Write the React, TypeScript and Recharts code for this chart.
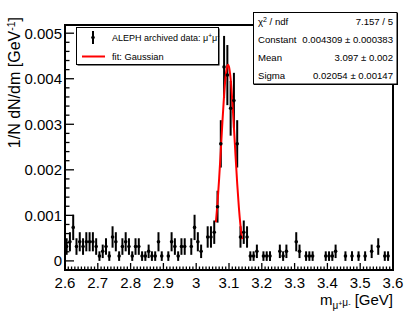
import React from 'react';
import { ComposedChart, Scatter, Line, XAxis, YAxis, ErrorBar } from 'recharts';

// Histogram bin centres (GeV) of the non-empty bins
const massGeV = [
  2.605, 2.615, 2.625, 2.635, 2.645, 2.655, 2.665, 2.675, 2.685, 2.695,
  2.705, 2.715, 2.725, 2.735, 2.745, 2.755, 2.765, 2.775, 2.785, 2.795,
  2.805, 2.815, 2.825, 2.835, 2.845, 2.855, 2.865, 2.875, 2.885, 2.895,
  2.915, 2.925, 2.935, 2.945, 2.955, 2.965, 2.985, 2.995, 3.005, 3.015,
  3.035, 3.045, 3.055, 3.065, 3.075, 3.085, 3.095, 3.105, 3.115, 3.125,
  3.135, 3.145, 3.155, 3.165, 3.175, 3.185, 3.205, 3.215, 3.225, 3.255,
  3.265, 3.275, 3.305, 3.315, 3.335, 3.345, 3.355, 3.395, 3.405, 3.415,
  3.425, 3.455, 3.475, 3.495, 3.515, 3.535, 3.555, 3.575, 3.585,
];

// 1/N dN/dm values [GeV^-1]
const density = [
  0.000315, 0.00042, 0.000735, 0.000315, 0.00042, 0.000315, 0.00042, 0.00042, 0.00042, 0.000315,
  0.000105, 0.00021, 0.000315, 0.000105, 0.000525, 0.00042, 0.000105, 0.000315, 0.00042, 0.000315,
  0.000105, 0.000315, 0.000315, 0.000105, 0.000105, 0.00021, 0.000105, 0.000105, 0.00042, 0.000105,
  0.000105, 0.00042, 0.000315, 0.000105, 0.000315, 0.000315, 0.000315, 0.000735, 0.00042, 0.00021,
  0.000525, 0.000525, 0.00063, 0.00119, 0.00257, 0.00426, 0.00408, 0.00335, 0.00352, 0.00257,
  0.000525, 0.00063, 0.000525, 0.000105, 0.000105, 0.00021, 0.000105, 0.000105, 0.000105, 0.00021,
  0.000105, 0.00021, 0.00042, 0.00021, 0.000105, 0.000105, 0.000105, 0.000105, 0.000105, 0.000105,
  0.00021, 0.000105, 0.000105, 0.000105, 0.000105, 0.00021, 0.000315, 0.000105, 0.000105,
];

// statistical uncertainties
const densityErr = [
  0.000182, 0.00021, 0.000278, 0.000182, 0.00021, 0.000182, 0.00021, 0.00021, 0.00021, 0.000182,
  0.000105, 0.000148, 0.000182, 0.000105, 0.000235, 0.00021, 0.000105, 0.000182, 0.00021, 0.000182,
  0.000105, 0.000182, 0.000182, 0.000105, 0.000105, 0.000148, 0.000105, 0.000105, 0.00021, 0.000105,
  0.000105, 0.00021, 0.000182, 0.000105, 0.000182, 0.000182, 0.000182, 0.000278, 0.00021, 0.000148,
  0.000235, 0.000235, 0.000257, 0.00035, 0.00052, 0.00068, 0.00066, 0.0006, 0.00061, 0.00052,
  0.000235, 0.000257, 0.000235, 0.000105, 0.000105, 0.000148, 0.000105, 0.000105, 0.000105, 0.000148,
  0.000105, 0.000148, 0.00021, 0.000148, 0.000105, 0.000105, 0.000105, 0.000105, 0.000105, 0.000105,
  0.000148, 0.000105, 0.000105, 0.000105, 0.000105, 0.000148, 0.000182, 0.000105, 0.000105,
];

// Gaussian fit curve, sampled
const fitMass = [
  3.06, 3.065, 3.07, 3.075, 3.08, 3.085, 3.09, 3.095, 3.097, 3.1,
  3.105, 3.11, 3.115, 3.12, 3.125, 3.13, 3.135, 3.14,
];
const fitDensity = [
  0.000849, 0.001279, 0.001814, 0.002427, 0.003058, 0.003632, 0.004066, 0.004289, 0.004309, 0.004263,
  0.003994, 0.003527, 0.002934, 0.002301, 0.0017, 0.001184, 0.000777, 0.00048,
];

const xMajorTicks = [2.6, 2.7, 2.8, 2.9, 3.0, 3.1, 3.2, 3.3, 3.4, 3.5, 3.6];
const yMajorTicks = [0, 0.001, 0.002, 0.003, 0.004, 0.005];

const statsLabels = ['Constant', 'Mean', 'Sigma'];
const statsValues = ['0.004309 \u00b1 0.000383', '3.097 \u00b1 0.002', '0.02054 \u00b1 0.00147'];
const chi2Value = '7.157 / 5';

const FONT = '"Liberation Sans", Arial, Helvetica, sans-serif';
const W = 407;
const H = 316;

const histData = massGeV.map((x, i) => ({ x, y: density[i], err: densityErr[i] }));
const fitData = fitMass.map((x, i) => ({ x, y: fitDensity[i] }));

const xTicks = Array.from({ length: 101 }, (_, i) => Math.round((2.6 + i * 0.01) * 100) / 100);
const yTicks = Array.from({ length: 26 }, (_, i) => Math.round(i * 2) / 10000);

const isMajorX = (v: number) => xMajorTicks.some((t) => Math.abs(t - v) < 1e-6);
const isMajorY = (v: number) => yMajorTicks.some((t) => Math.abs(t - v) < 1e-9);

function XTick(props: any) {
  const { x, y, payload } = props;
  const v = payload.value as number;
  const major = isMajorX(v);
  const len = major ? 7 : 3.5;
  return (
    <g>
      <line x1={x} x2={x} y1={y} y2={y - len} stroke="#000" strokeWidth={1.3} />
      {major && (
        <text x={x} y={y + 18} textAnchor="middle" fontSize={15} fontFamily={FONT} fill="#000">
          {String(Number(v.toFixed(1)))}
        </text>
      )}
    </g>
  );
}

function YTick(props: any) {
  const { x, y, payload } = props;
  const v = payload.value as number;
  const major = isMajorY(v);
  const len = major ? 9 : 4.5;
  return (
    <g>
      <line x1={x} x2={x + len} y1={y} y2={y} stroke="#000" strokeWidth={1.3} />
      {major && (
        <text x={x - 3} y={y + 5.5} textAnchor="end" fontSize={15} fontFamily={FONT} fill="#000">
          {v === 0 ? '0' : v.toFixed(3)}
        </text>
      )}
    </g>
  );
}

const renderMarker = (p: any) => <circle cx={p.cx} cy={p.cy} r={1.8} fill="#000" />;

export default function App() {
  return (
    <div style={{ position: 'absolute', left: 0, top: 0, width: W, height: H, background: '#fff' }}>
      <ComposedChart
        width={W}
        height={H}
        margin={{ top: 25, right: 14, left: 0, bottom: 0 }}
      >
        <XAxis
          type="number"
          dataKey="x"
          domain={[2.6, 3.6]}
          ticks={xTicks}
          interval={0}
          tickSize={0}
          tickMargin={0}
          axisLine={false}
          tickLine={false}
          tick={(p: any) => <XTick {...p} />}
          height={46}
          allowDataOverflow
        />
        <YAxis
          type="number"
          dataKey="y"
          domain={[-0.0002, 0.00518]}
          ticks={yTicks}
          interval={0}
          tickSize={0}
          tickMargin={0}
          axisLine={false}
          tickLine={false}
          tick={(p: any) => <YTick {...p} />}
          width={65}
          allowDataOverflow
        />
        <Scatter data={histData} dataKey="y" fill="#000" shape={renderMarker} isAnimationActive={false}>
          <ErrorBar dataKey="err" direction="y" width={0} stroke="#000" strokeWidth={2} isAnimationActive={false} />
        </Scatter>
        <Line
          data={fitData}
          dataKey="y"
          type="monotone"
          stroke="#ff0000"
          strokeWidth={2}
          dot={false}
          activeDot={false}
          isAnimationActive={false}
        />
      </ComposedChart>
      <svg
        width={W}
        height={H}
        style={{ position: 'absolute', left: 0, top: 0, pointerEvents: 'none' }}
        fontFamily={FONT}
      >
        {/* frame */}
        <rect x={65} y={25} width={328} height={245} fill="none" stroke="#000" strokeWidth={2} />

        {/* legend */}
        <rect x={77.5} y={28.5} width={142} height={37} fill="#000" />
        <rect x={76.5} y={27.5} width={142} height={37} fill="#fff" stroke="#000" strokeWidth={1} />
        <line x1={93} x2={93} y1={31} y2={44} stroke="#000" strokeWidth={2} />
        <circle cx={93} cy={37.5} r={1.8} fill="#000" />
        <text x={112} y={41} fontSize={9} fill="#000">
          ALEPH archived data: {'\u03bc'}
          <tspan dy={-3.5} fontSize={6.5}>+</tspan>
          <tspan dy={3.5}>{'\u03bc'}</tspan>
          <tspan dy={-3.5} fontSize={6.5}>-</tspan>
        </text>
        <line x1={82} x2={105} y1={56.5} y2={56.5} stroke="#ff0000" strokeWidth={2} />
        <text x={112} y={60} fontSize={9.3} fill="#000">fit: Gaussian</text>

        {/* stats box */}
        <rect x={254} y={13} width={144} height={72} fill="#000" />
        <rect x={253.5} y={12.5} width={143.5} height={71.5} fill="#fff" stroke="#000" strokeWidth={1} />
        <text x={258} y={25} fontSize={9.6} fill="#000">
          {'\u03c7'}
          <tspan dy={-3.5} fontSize={7}>2</tspan>
          <tspan dy={3.5}> / ndf</tspan>
        </text>
        <text x={393} y={25} fontSize={9.6} fill="#000" textAnchor="end">{chi2Value}</text>
        {statsLabels.map((l, i) => (
          <g key={l}>
            <text x={258} y={43 + i * 17.8} fontSize={9.6} fill="#000">{l}</text>
            <text x={393} y={43 + i * 17.8} fontSize={9.6} fill="#000" textAnchor="end">{statsValues[i]}</text>
          </g>
        ))}

        {/* axis titles */}
        <text
          transform="translate(20,17) rotate(-90)"
          x={0}
          y={0}
          fontSize={16}
          textAnchor="end"
          fill="#000"
        >
          1/N dN/dm [GeV
          <tspan dy={-5} fontSize={10.5}>-1</tspan>
          <tspan dy={5}>]</tspan>
        </text>
        <text x={393} y={305} fontSize={15} textAnchor="end" fill="#000">
          m
          <tspan dy={4} fontSize={10}>{'\u03bc'}</tspan>
          <tspan dy={-3} fontSize={7}>+</tspan>
          <tspan dy={0} fontSize={10}>{'\u03bc'}</tspan>
          <tspan dy={0} fontSize={7}>-</tspan>
          <tspan dy={-1}> [GeV]</tspan>
        </text>
      </svg>
    </div>
  );
}
